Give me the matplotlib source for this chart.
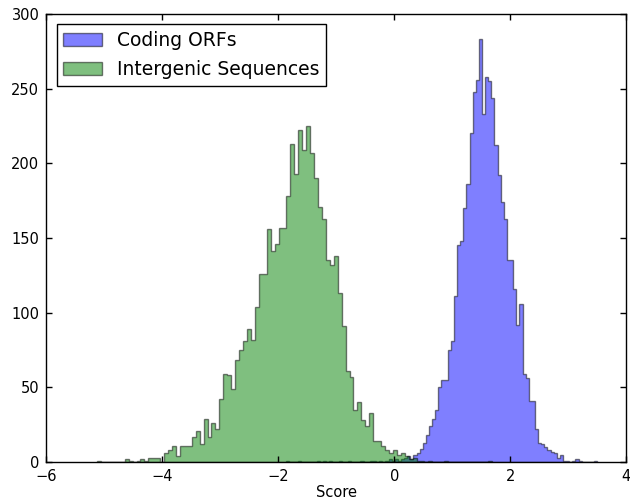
import matplotlib
matplotlib.use("Agg")
import matplotlib.pyplot as plt
import numpy as np

# Histogram counts (100 equal-width bins per series)
coding_range = (-1.873, 3.500)
coding_counts = [
    1, 0, 0, 0, 1, 0, 0, 0, 0, 0,
    1, 0, 1, 0, 1, 0, 0, 1, 0, 0,
    1, 0, 0, 0, 1, 0, 0, 1, 1, 0,
    1, 0, 1, 2, 1, 2, 1, 2, 3, 4,
    2, 5, 6, 9, 13, 18, 24, 29, 35, 50,
    55, 55, 75, 81, 111, 145, 148, 170, 186, 220,
    248, 256, 283, 233, 258, 255, 244, 212, 192, 174,
    163, 135, 135, 116, 92, 106, 59, 56, 41, 41,
    22, 13, 12, 10, 8, 7, 6, 3, 5, 1,
    1, 0, 1, 2, 1, 0, 0, 0, 0, 1,
]

intergenic_range = (-5.124, 1.676)
intergenic_counts = [
    1, 0, 0, 0, 0, 0, 0, 2, 1, 0,
    1, 2, 1, 3, 3, 3, 0, 6, 8, 11,
    4, 11, 11, 11, 17, 21, 12, 29, 17, 26,
    22, 42, 59, 58, 49, 68, 75, 81, 89, 82,
    104, 126, 126, 156, 141, 146, 157, 157, 178, 213,
    193, 222, 209, 225, 207, 190, 171, 163, 135, 132,
    138, 113, 91, 61, 57, 35, 40, 28, 24, 33,
    14, 14, 11, 8, 6, 8, 5, 6, 4, 2,
    3, 1, 1, 0, 1, 0, 0, 0, 1, 0,
    0, 0, 0, 0, 0, 0, 0, 0, 0, 1,
]

series = [
    ("Coding ORFs", coding_counts, coding_range, "blue"),
    ("Intergenic Sequences", intergenic_counts, intergenic_range, "green"),
]

fig = plt.figure(figsize=(6.3, 4.99), dpi=100, facecolor="white")
ax = fig.add_axes([46.3 / 630, 37 / 499, 580 / 630, 448 / 499])

for label, counts, rng, color in series:
    edges = np.linspace(rng[0], rng[1], len(counts) + 1)
    ax.hist(edges[:-1], bins=edges, weights=counts, histtype="stepfilled",
            facecolor=color, edgecolor="black", linewidth=1.0, alpha=0.5,
            label=label)

ax.set_xlim(-6, 4)
ax.set_ylim(0, 300)
ax.set_xticks(np.arange(-6, 5, 2))
ax.set_yticks(np.arange(0, 301, 50))
ax.tick_params(direction="in", top=True, right=True, length=4, width=1,
               labelsize=10.5, pad=5)
for s in ax.spines.values():
    s.set_linewidth(1.0)
ax.set_xlabel("Score", fontsize=10.5, labelpad=1)

leg = ax.legend(loc="upper left", fontsize=13.5, fancybox=False, framealpha=1,
                edgecolor="black", borderaxespad=0.55, handlelength=2.05,
                handletextpad=0.8, labelspacing=0.55, borderpad=0.35)
leg.get_frame().set_linewidth(1.0)

fig.savefig("out.png", dpi=100, facecolor="white")
